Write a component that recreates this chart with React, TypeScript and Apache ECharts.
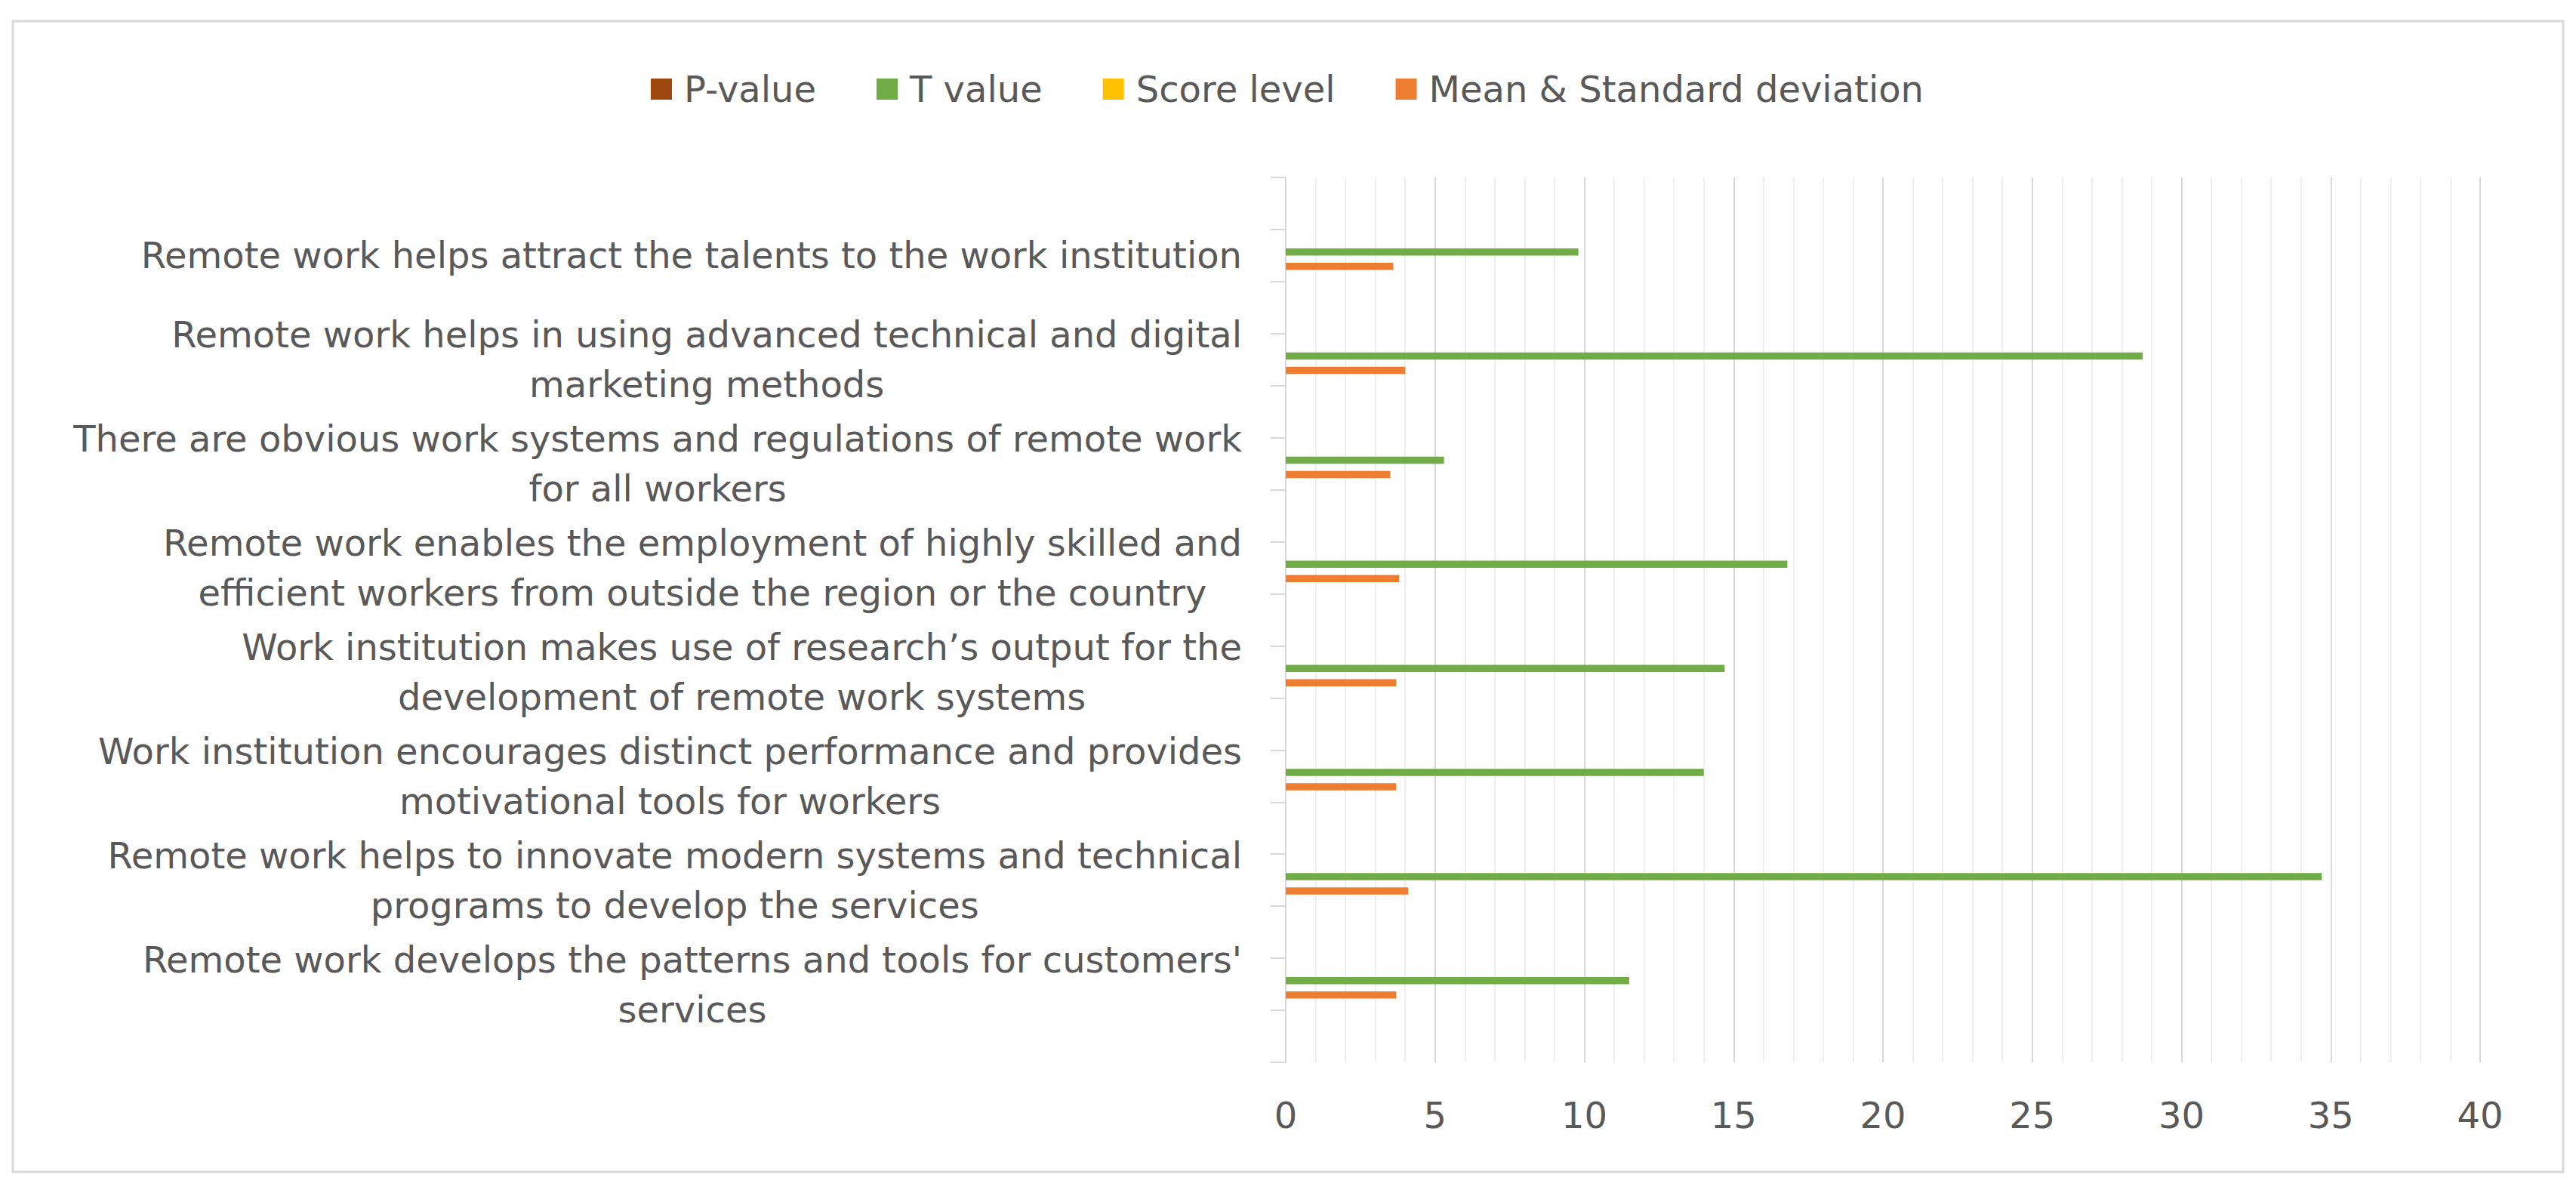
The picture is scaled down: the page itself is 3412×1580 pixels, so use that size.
import React, { useEffect, useRef } from 'react';
import * as echarts from 'echarts';

// ---------- data ----------
const categories: string[] = [
  'Remote work helps attract the talents to the work institution',
  'Remote work helps in using advanced technical and digital\nmarketing methods',
  'There are obvious work systems and regulations of remote work\nfor all workers',
  'Remote work enables the employment of highly skilled and\nefficient workers from outside the region or the country',
  'Work institution makes use of research\u2019s output for the\ndevelopment of remote work systems',
  'Work institution encourages distinct performance and provides\nmotivational tools for workers',
  'Remote work helps to innovate modern systems and technical\nprograms to develop the services',
  "Remote work develops the patterns and tools for customers'\nservices",
];
const seriesNames: string[] = ['P-value', 'T value', 'Score level', 'Mean & Standard deviation'];
const pValue: number[] = [0, 0, 0, 0, 0, 0, 0, 0];
const tValue: number[] = [9.8, 28.7, 5.3, 16.8, 14.7, 14.0, 34.7, 11.5];
const scoreLevel: number[] = [0, 0, 0, 0, 0, 0, 0, 0];
const meanSD: number[] = [3.6, 4.0, 3.5, 3.8, 3.7, 3.7, 4.1, 3.7];
const xMin = 0;
const xMax = 40;
const xStep = 5;

const seriesColors = ['#9E480E', '#70AD47', '#FFC000', '#ED7D31'];
const FONT = "'DejaVu Sans', sans-serif";
const TEXT_COLOR = '#595959';

// Category axis with blank slots between the statements (as in the source sheet)
const slotLabels: string[] = [];
categories.forEach((c) => {
  slotLabels.push('');
  slotLabels.push(c);
});
slotLabels.push('');
const slotKeys = slotLabels.map((s, i) => (s === '' ? `blank_${i}` : s));
const toSlots = (vals: number[]) => {
  const out: (number | string)[] = [];
  vals.forEach((v) => {
    out.push('-');
    out.push(v);
  });
  out.push('-');
  return out;
};

export default function App() {
  const ref = useRef<HTMLDivElement>(null);
  useEffect(() => {
    if (!ref.current) return;
    const chart = echarts.init(ref.current, undefined, { renderer: 'svg' });
    const seriesData = [pValue, tValue, scoreLevel, meanSD];
    chart.setOption({
      animation: false,
      backgroundColor: '#ffffff',
      graphic: [
        {
          type: 'rect',
          shape: { x: 17, y: 28, width: 3378, height: 1524 },
          style: { fill: 'none', stroke: '#d9d9d9', lineWidth: 3 },
          z: 0,
        },
      ],
      legend: {
        left: 857,
        top: 89,
        icon: 'rect',
        itemWidth: 28,
        itemHeight: 28,
        itemGap: 80,
        data: seriesNames,
        textStyle: {
          fontFamily: FONT,
          fontSize: 48,
          color: TEXT_COLOR,
          padding: [0, 0, 0, 11],
        },
      },
      grid: { left: 1703, right: 127, top: 235, bottom: 173, containLabel: false },
      xAxis: {
        type: 'value',
        min: xMin,
        max: xMax,
        interval: xStep,
        axisLine: { show: false },
        axisTick: { show: false },
        axisLabel: {
          fontFamily: FONT,
          fontSize: 48,
          color: TEXT_COLOR,
          margin: 46,
        },
        splitLine: { show: true, lineStyle: { color: '#d9d9d9', width: 2 } },
        minorTick: { show: false, splitNumber: 5 },
        minorSplitLine: { show: true, lineStyle: { color: '#efefef', width: 2 } },
      },
      yAxis: {
        type: 'category',
        inverse: true,
        data: slotKeys,
        axisLine: { show: true, lineStyle: { color: '#d9d9d9', width: 2 } },
        axisTick: { show: true, length: 20, interval: 0, lineStyle: { color: '#d9d9d9', width: 2 } },
        splitLine: { show: false },
        axisLabel: {
          interval: 0,
          margin: 58,
          fontFamily: FONT,
          fontSize: 48,
          color: TEXT_COLOR,
          lineHeight: 66,
          formatter: (_v: string, idx: number) => {
            const s = slotLabels[idx];
            if (!s) return '';
            return s
              .split('\n')
              .map((l) => `{c|${l}}`)
              .join('\n');
          },
          rich: {
            c: {
              align: 'center',
              fontFamily: FONT,
              fontSize: 48,
              color: TEXT_COLOR,
              lineHeight: 66,
            },
          },
        },
      },
      series: seriesNames.map((name, i) => ({
        name,
        type: 'bar',
        data: toSlots(seriesData[i]),
        barWidth: 9.5,
        barGap: '0%',
        itemStyle: { color: seriesColors[i] },
      })),
      color: seriesColors,
    });
    return () => chart.dispose();
  }, []);
  return (
    <div
      ref={ref}
      style={{ position: 'fixed', left: 0, top: 0, width: 3412, height: 1580, background: '#fff' }}
    />
  );
}
